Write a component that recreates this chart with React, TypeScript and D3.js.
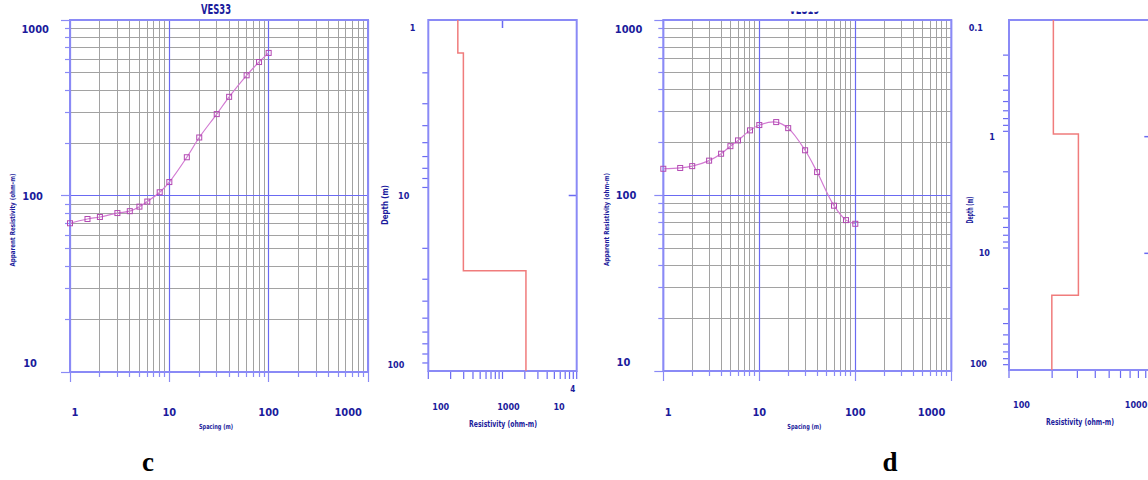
import React from 'react';
import * as d3 from 'd3';

// VES sounding curves (AB/2 spacing vs apparent resistivity)
const spacing = [1, 1.5, 2, 3, 4, 5, 6, 8, 10, 15, 20, 30, 40, 60, 80, 100];
const rhoVES33 = [70, 74, 76, 80, 82, 87, 93, 105, 120, 166, 215, 292, 366, 485, 577, 650];
const rhoVES19 = [142, 143.5, 147, 158, 173, 191, 206, 235, 252, 262, 242, 181, 136, 87.5, 72.4, 69];
const spacingTicks = [1, 10, 100, 1000];
const apparentTicks = [10, 100, 1000];

// layered models (top depth of each layer, resistivity)
const layerTopC = [1, 1.54, 26.8];
const layerRhoC = [250, 297, 2070];
const layerTopD = [0.1, 0.95, 22.9];
const layerRhoD = [204, 305, 199];
const depthTicksC = [1, 10, 100];
const depthTicksD = [0.1, 1, 10, 100];
const resTicksC = [100, 1000, 10000];
const resTicksD = [100, 1000];

const BLUE = '#6a6af2';
const FRAME = '#8a8af6';
const GRID = '#a2a2a2';
const INK = '#1b1b9c';
const FONT = "'Liberation Sans Narrow', 'DejaVu Sans Condensed', 'Liberation Sans', sans-serif";

const fmt = (v: number) => (v === 10000 ? '10' : String(v));
const isMajor = (v: number) => Math.abs(Math.log10(v) - Math.round(Math.log10(v))) < 1e-6;
const crisp = (p: number) => Math.round(p - 0.5) + 0.5;

const SoundingPanel = ({ box, rho, title, titleClip, id }: any) => {
  const x = d3.scaleLog().domain([1, 1000]).range([box.left, box.right]);
  const y = d3.scaleLog().domain([10, 1000]).range([box.bottom, box.top]);
  const xt = x.ticks();
  const yt = y.ticks();
  const gx = (v: number) => crisp(x(v));
  const gy = (v: number) => crisp(y(v));
  const pts = spacing.map((s, i) => [x(s), y(rho[i])] as [number, number]);
  const line = d3.line().curve(d3.curveCatmullRom.alpha(0.5))(pts) || '';
  const midX = (box.left + box.right) / 2 - 3;
  return (
    <g>
      {/* grid */}
      {yt.filter(v => !isMajor(v)).map(v => (
        <line key={'gy' + v} x1={box.left} x2={box.right} y1={gy(v)} y2={gy(v)} stroke={GRID} strokeWidth={1} />
      ))}
      {xt.filter(v => !isMajor(v)).map(v => (
        <line key={'gx' + v} x1={gx(v)} x2={gx(v)} y1={box.top} y2={box.bottom} stroke={GRID} strokeWidth={1} />
      ))}
      {yt.filter(isMajor).map(v => (
        <line key={'my' + v} x1={box.left} x2={box.right} y1={gy(v)} y2={gy(v)} stroke={BLUE} strokeWidth={1.2} />
      ))}
      {xt.filter(isMajor).map(v => (
        <line key={'mx' + v} x1={gx(v)} x2={gx(v)} y1={box.top} y2={box.bottom} stroke={BLUE} strokeWidth={1.2} />
      ))}
      {/* outward ticks */}
      {yt.map(v => (
        <line key={'ty' + v} x1={box.left - (isMajor(v) ? 9 : 5)} x2={box.left} y1={gy(v)} y2={gy(v)}
          stroke={FRAME} strokeWidth={1.2} />
      ))}
      {xt.map(v => (
        <line key={'tx' + v} x1={gx(v)} x2={gx(v)} y1={box.bottom} y2={box.bottom + (isMajor(v) ? 10 : 5)}
          stroke={FRAME} strokeWidth={1.2} />
      ))}
      <rect x={box.left} y={box.top} width={box.right - box.left} height={box.bottom - box.top}
        fill="none" stroke={FRAME} strokeWidth={2} />
      {/* data */}
      <path d={line} fill="none" stroke="#d27ad2" strokeWidth={1.2} />
      {pts.map((p, i) => (
        <rect key={'p' + i} x={p[0] - 2.5} y={p[1] - 2.5} width={5} height={5}
          fill="none" stroke="#b349b3" strokeWidth={1} />
      ))}
      {/* tick labels */}
      {apparentTicks.map((v, i) => {
        const k = apparentTicks.length - 1 - i;
        const dy = i === 0 ? -9 : i === apparentTicks.length - 1 ? 9 : 0;
        return (
          <text key={'ly' + v} x={box.left - 21 - 6 * k} y={y(v) + dy} dy="0.35em" textAnchor="end"
            fontFamily={FONT} fontWeight="bold" fontSize={11} fill={INK}>{fmt(v)}</text>
        );
      })}
      {spacingTicks.map((v, i) => {
        const first = i === 0;
        const last = i === spacingTicks.length - 1;
        return (
          <text key={'lx' + v} x={first ? x(v) + 5 : last ? x(v) - 6 : x(v)} y={412} dy="0.35em"
            textAnchor={last ? 'end' : 'middle'} fontFamily={FONT} fontWeight="bold" fontSize={11} fill={INK}>
            {fmt(v)}
          </text>
        );
      })}
      <text x={midX} y={427} dy="0.35em" textAnchor="middle" fontFamily={FONT} fontWeight="bold"
        fontSize={7} fill={INK} textLength={34} lengthAdjust="spacingAndGlyphs">Spacing (m)</text>
      <text transform={`translate(${box.left - 57},${(box.top + box.bottom) / 2 + 24}) rotate(-90)`}
        textAnchor="middle" dy="0.35em" fontFamily={FONT} fontWeight="bold" fontSize={7} fill={INK}
        textLength={93} lengthAdjust="spacingAndGlyphs">Apparent Resistivity (ohm-m)</text>
      {/* title, cut by the top of the figure */}
      {titleClip && (
        <clipPath id={id}>
          <rect x={box.left} y={titleClip[0]} width={box.right - box.left} height={titleClip[1] - titleClip[0]} />
        </clipPath>
      )}
      <text x={midX} y={14} textAnchor="middle" fontFamily={FONT} fontWeight="bold" fontSize={14}
        fill={INK} textLength={30} lengthAdjust="spacingAndGlyphs"
        clipPath={titleClip ? `url(#${id})` : undefined}>{title}</text>
    </g>
  );
};

const ModelPanel = ({ box, xDomain, yDomain, resTicks, depthTicks, tops, rhos, sup, depthLen }: any) => {
  const x = d3.scaleLog().domain(xDomain).range([box.left, box.right]);
  const y = d3.scaleLog().domain(yDomain).range([box.top, box.bottom]);
  const xt = x.ticks();
  const yt = y.ticks();
  // step model path
  const bottom = yDomain[1];
  let d = '';
  tops.forEach((t: number, i: number) => {
    const next = i < tops.length - 1 ? tops[i + 1] : bottom;
    d += `${i === 0 ? 'M' : 'L'}${x(rhos[i])},${y(t)}L${x(rhos[i])},${y(next)}`;
  });
  const innerX = resTicks.slice(1, -1);
  const innerY = depthTicks.slice(1, -1);
  const n = depthTicks.length;
  return (
    <g>
      {yt.filter((v: number) => !isMajor(v)).map((v: number) => (
        <line key={'ty' + v} x1={box.left - 6} x2={box.left} y1={y(v)} y2={y(v)} stroke={BLUE} strokeWidth={1.2} />
      ))}
      {xt.map((v: number) => (
        <line key={'tx' + v} x1={x(v)} x2={x(v)} y1={box.bottom} y2={box.bottom + 8} stroke={BLUE} strokeWidth={1.2} />
      ))}
      {innerX.map((v: number) => (
        <line key={'ix' + v} x1={x(v)} x2={x(v)} y1={box.top} y2={box.top + 8} stroke={BLUE} strokeWidth={1.5} />
      ))}
      {innerY.map((v: number) => (
        <line key={'iy' + v} x1={box.right - 8} x2={box.right} y1={y(v)} y2={y(v)} stroke={BLUE} strokeWidth={1.5} />
      ))}
      <rect x={box.left} y={box.top} width={box.right - box.left} height={box.bottom - box.top}
        fill="none" stroke={FRAME} strokeWidth={2} />
      <path d={d} fill="none" stroke="#f07c7c" strokeWidth={1.5} />
      {depthTicks.map((v: number, i: number) => {
        const dy = i === 0 ? 8 : i === n - 1 ? -6 : 0;
        return (
          <text key={'ly' + v} x={box.left - box.labelEnd[i]} y={y(v) + dy} dy="0.35em" textAnchor="end"
            fontFamily={FONT} fontWeight="bold" fontSize={9} fill={INK}>{String(v)}</text>
        );
      })}
      {resTicks.map((v: number, i: number) => {
        const first = i === 0;
        const last = i === resTicks.length - 1;
        const px = first ? x(v) + 4 : last ? x(v) - (sup ? 12 : 5) : x(v) + 6;
        return (
          <text key={'lx' + v} x={px} y={box.labelY} dy="0.35em"
            textAnchor={first ? 'start' : last ? 'end' : 'middle'}
            fontFamily={FONT} fontWeight="bold" fontSize={9} fill={INK}>{fmt(v)}</text>
        );
      })}
      {sup && (
        <text x={x(resTicks[resTicks.length - 1]) - 4} y={box.labelY - 18} dy="0.35em" textAnchor="middle"
          fontFamily={FONT} fontWeight="bold" fontSize={8} fill={INK}>{sup}</text>
      )}
      <text x={box.titleX} y={box.labelY + 17} dy="0.35em" textAnchor="middle" fontFamily={FONT}
        fontWeight="bold" fontSize={9} fill={INK} textLength={68} lengthAdjust="spacingAndGlyphs">
        Resistivity  (ohm-m)
      </text>
      <text transform={`translate(${box.left - box.depthTitleOff},${box.depthTitleY}) rotate(-90)`}
        textAnchor="middle" dy="0.35em" fontFamily={FONT} fontWeight="bold" fontSize={8} fill={INK}
        textLength={depthLen} lengthAdjust="spacingAndGlyphs">Depth (m)</text>
    </g>
  );
};

const App = () => {
  return (
    <svg width={1148} height={480} style={{ position: 'absolute', left: 0, top: 0, background: '#fff' }}>
      <rect width={1148} height={480} fill="#fff" />
      <SoundingPanel id="clipC" box={{ left: 70, right: 368, top: 20, bottom: 372 }} rho={rhoVES33} title="VES33" />
      <ModelPanel
        box={{ left: 428.3, right: 576.7, top: 20, bottom: 371, labelY: 407, titleX: 503,
          labelEnd: [13, 19, 24], depthTitleOff: 43, depthTitleY: 205 }}
        xDomain={[100, 10000]} yDomain={[1, 100]} resTicks={resTicksC} depthTicks={depthTicksC}
        tops={layerTopC} rhos={layerRhoC} sup="4" depthLen={40} />
      <SoundingPanel id="clipD" box={{ left: 663.3, right: 951.3, top: 20, bottom: 371 }} rho={rhoVES19}
        title="VES19" titleClip={[11.5, 16]} />
      <ModelPanel
        box={{ left: 1009, right: 1152.3, top: 20, bottom: 370, labelY: 405, titleX: 1080,
          labelEnd: [26, 14, 19, 22], depthTitleOff: 39, depthTitleY: 210 }}
        xDomain={[100, 1000]} yDomain={[0.1, 100]} resTicks={resTicksD} depthTicks={depthTicksD}
        tops={layerTopD} rhos={layerRhoD} depthLen={27} />
      <text x={148} y={471} textAnchor="middle" fontFamily="'Liberation Serif', serif" fontWeight="bold"
        fontSize={27} fill="#000">c</text>
      <text x={890} y={471} textAnchor="middle" fontFamily="'Liberation Serif', serif" fontWeight="bold"
        fontSize={27} fill="#000">d</text>
    </svg>
  );
};

export default App;
